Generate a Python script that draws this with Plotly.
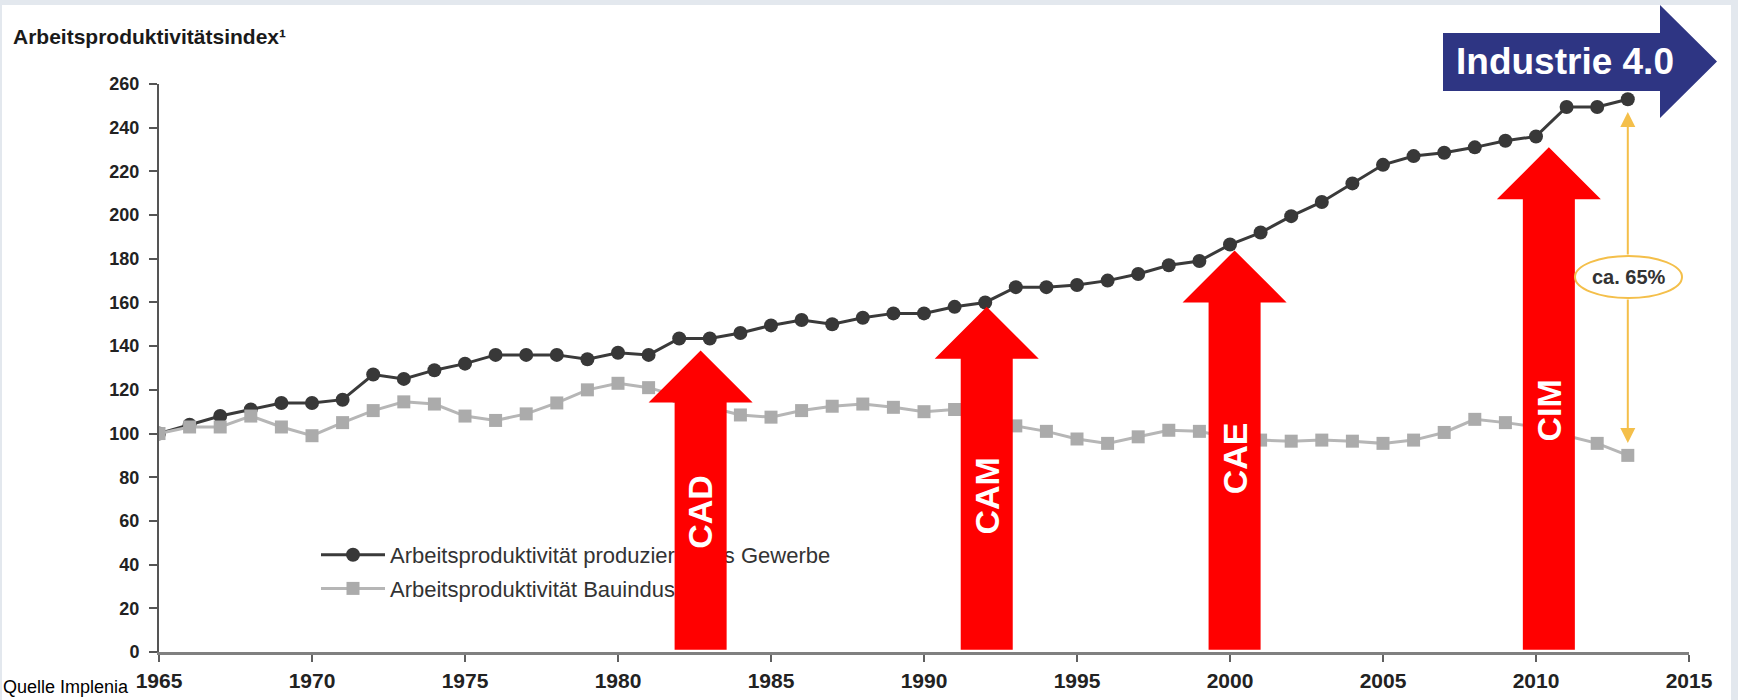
import plotly.graph_objects as go

# --- data -----------------------------------------------------------------
years = list(range(1965, 2014))

produzierendes_gewerbe = [
    100, 104, 108, 111, 114, 114, 115.5, 127, 125, 129,
    132, 136, 136, 136, 134, 137, 136, 143.5, 143.5, 146,
    149.5, 152, 150, 153, 155, 155, 158, 160, 167, 167,
    168, 170, 173, 177, 179, 186.5, 192, 199.5, 206, 214.5,
    223, 227, 228.5, 231, 234, 236, 249.5, 249.5, 253,
]

bauindustrie = [
    100, 103, 103, 108, 103, 99, 105, 110.5, 114.5, 113.5,
    108, 106, 109, 114, 120, 123, 121, 117, 112, 108.5,
    107.5, 110.5, 112.5, 113.5, 112, 110, 111, 107, 103.5, 101,
    97.5, 95.5, 98.5, 101.5, 101, 98, 97, 96.5, 97, 96.5,
    95.5, 97, 100.5, 106.5, 105, 103, 99, 95.5, 90,
]

series_names = [
    "Arbeitsproduktivität produzierendes Gewerbe",
    "Arbeitsproduktivität Bauindustrie",
]

x_ticks = [1965, 1970, 1975, 1980, 1985, 1990, 1995, 2000, 2005, 2010, 2015]
y_ticks = list(range(0, 261, 20))

# technology milestones drawn as block arrows
milestone_labels = ["CAD", "CAM", "CAE", "CIM"]
milestone_years = [1982.7, 1992.05, 2000.15, 2010.42]
milestone_tips = [138.0, 158.0, 183.8, 231.0]
milestone_text_y = [64.0, 71.5, 88.5, 110.5]

gap_label = "ca. 65%"
gap_year = 2013

# --- layout geometry -------------------------------------------------------
W, H = 1738, 700
ML, MR, MT, MB = 159, 49, 84, 48
PW, PH = W - ML - MR, H - MT - MB


def px(x):
    """page pixel x -> paper coordinate"""
    return (x - ML) / PW


def py(y):
    """page pixel y (from top) -> paper coordinate"""
    return (H - MB - y) / PH


FONT = "Arial, 'Liberation Sans', Helvetica, sans-serif"
RED = "#ff0000"
NAVY = "#2e3583"
GOLD = "#f4bf4a"

fig = go.Figure()

fig.add_trace(go.Scatter(
    x=years, y=produzierendes_gewerbe, name=series_names[0],
    mode="lines+markers", legendgroup="a",
    line=dict(color="#3a3a3a", width=3),
    marker=dict(symbol="circle", size=14, color="#383838"),
))
fig.add_trace(go.Scatter(
    x=years, y=bauindustrie, name=series_names[1],
    mode="lines+markers", legendgroup="b",
    line=dict(color="#b6b6b6", width=3),
    marker=dict(symbol="square", size=13, color="#ababab"),
))

shapes = []
# white slide area over the light page background
shapes.append(dict(type="rect", xref="paper", yref="paper", layer="below",
                   x0=px(2), x1=px(1731), y0=py(702), y1=py(5),
                   fillcolor="white", line=dict(width=0)))

# red block arrows
shaft_half, head_half, head_len, base = 0.85, 1.70, 23.8, 1.0
annotations = []
for lab, yr, tip, ty in zip(milestone_labels, milestone_years, milestone_tips, milestone_text_y):
    hb = tip - head_len
    path = (f"M{yr - shaft_half},{base} L{yr + shaft_half},{base} "
            f"L{yr + shaft_half},{hb} L{yr + head_half},{hb} L{yr},{tip} "
            f"L{yr - head_half},{hb} L{yr - shaft_half},{hb} Z")
    shapes.append(dict(type="path", xref="x", yref="y", path=path,
                       fillcolor=RED, line=dict(width=0), layer="above"))
    annotations.append(dict(x=yr, y=ty, xref="x", yref="y", text=f"<b>{lab}</b>",
                            xanchor="center", yanchor="middle",
                            showarrow=False, textangle=-90,
                            font=dict(family=FONT, size=34, color="white")))

# navy "Industrie 4.0" arrow
nav = [(1443, 33), (1660, 33), (1660, 5), (1717, 61.5), (1660, 118), (1660, 91), (1443, 91)]
nav_path = "M" + " L".join(f"{px(a)},{py(b)}" for a, b in nav) + " Z"
shapes.append(dict(type="path", xref="paper", yref="paper", path=nav_path,
                   fillcolor=NAVY, line=dict(width=0), layer="above"))
annotations.append(dict(x=px(1565), y=py(61), xref="paper", yref="paper",
                        xanchor="center", yanchor="middle",
                        text="<b>Industrie 4.0</b>", showarrow=False,
                        font=dict(family=FONT, size=37, color="white")))

# gap marker between the two series in the last year
top_val = produzierendes_gewerbe[-1] - 5.8
bot_val = bauindustrie[-1] + 5.7
ell_top, ell_bot = 181.3, 162.0
annotations.append(dict(x=gap_year, y=top_val, ax=gap_year, ay=ell_top,
                        xref="x", yref="y", axref="x", ayref="y", text="",
                        showarrow=True, arrowhead=2, arrowsize=1.5,
                        arrowwidth=2, arrowcolor=GOLD, standoff=0))
annotations.append(dict(x=gap_year, y=bot_val, ax=gap_year, ay=ell_bot,
                        xref="x", yref="y", axref="x", ayref="y", text="",
                        showarrow=True, arrowhead=2, arrowsize=1.5,
                        arrowwidth=2, arrowcolor=GOLD, standoff=0))
shapes.append(dict(type="circle", xref="paper", yref="paper", layer="above",
                   x0=px(1575), x1=px(1682), y0=py(298), y1=py(256),
                   fillcolor="white", line=dict(color=GOLD, width=2)))
annotations.append(dict(x=px(1628.5), y=py(277), xref="paper", yref="paper",
                        xanchor="center", yanchor="middle",
                        text=f"<b>{gap_label}</b>", showarrow=False,
                        font=dict(family=FONT, size=20, color="#333333")))

# chart heading and source line
annotations.append(dict(x=px(11), y=py(37), xref="paper", yref="paper",
                        xanchor="left", yanchor="middle",
                        text="<b>Arbeitsproduktivitätsindex¹</b>",
                        showarrow=False, font=dict(family=FONT, size=21, color="#1a1a1a")))
annotations.append(dict(x=px(1), y=py(687), xref="paper", yref="paper",
                        xanchor="left", yanchor="middle", text="Quelle Implenia",
                        showarrow=False, font=dict(family=FONT, size=18, color="#000000")))

fig.update_layout(
    width=W, height=H,
    margin=dict(l=ML, r=MR, t=MT, b=MB, pad=0),
    paper_bgcolor="#e3e8ee",
    plot_bgcolor="rgba(0,0,0,0)",
    shapes=shapes,
    annotations=annotations,
    showlegend=True,
    legend=dict(
        x=px(316), y=py(534), xanchor="left", yanchor="top",
        bgcolor="rgba(0,0,0,0)", borderwidth=0,
        font=dict(family=FONT, size=22, color="#333333"),
        traceorder="grouped", tracegroupgap=2, itemwidth=64,
    ),
    xaxis=dict(
        range=[1965, 2015], tickvals=x_ticks, showgrid=False, zeroline=False,
        automargin=False,
        showline=True, linecolor="#808080", linewidth=3,
        ticks="outside", ticklen=7, tickwidth=2, tickcolor="#606060",
        ticklabelstandoff=1,
        tickfont=dict(family=FONT, size=21, color="#222222", weight="bold"),
    ),
    yaxis=dict(
        range=[0, 260], tickvals=y_ticks, showgrid=False, zeroline=False,
        automargin=False,
        showline=True, linecolor="#555555", linewidth=2,
        ticks="outside", ticklen=8, tickwidth=2, tickcolor="#555555",
        ticklabelstandoff=6,
        tickfont=dict(family=FONT, size=18, color="#222222", weight="bold"),
    ),
)

# draw the legend beneath the arrow shapes so the arrows overlap it
legend_below_shapes = """
var gd = document.getElementById('{plot_id}');
var leg = gd.querySelector('g.infolayer g.legend');
var above = gd.querySelector('g.layer-above');
if (leg && above) { above.parentNode.insertBefore(leg, above); }
"""

fig.write_html("out.html", post_script=legend_below_shapes)
